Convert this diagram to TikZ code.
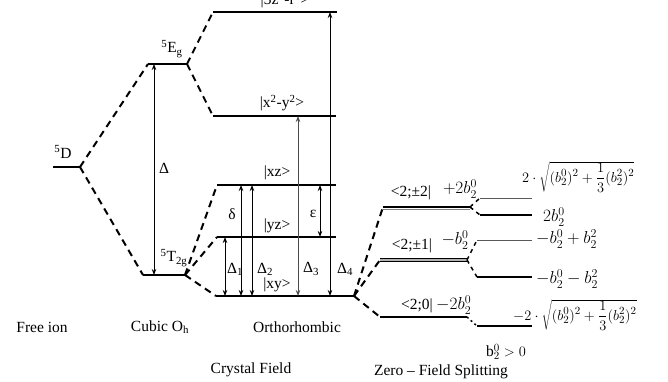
\documentclass[tikz,border=0pt]{standalone}
\usepackage{fontspec}
\setmainfont{Liberation Serif}
\usetikzlibrary{arrows.meta}
\begin{document}
\begin{tikzpicture}[x=1pt,y=-1pt,
  level/.style={line width=2.2pt},
  thinlevel/.style={line width=0.9pt,gray!70!black},
  conn/.style={line width=2pt,dash pattern=on 7pt off 5pt},
  gap/.style={line width=0.9pt,{Stealth[length=6pt,width=4.5pt]}-{Stealth[length=6pt,width=4.5pt]}},
  lbl/.style={font=\fontsize{15.5}{18}\selectfont,inner sep=0pt},
  mlbl/.style={font=\fontsize{16.5}{19}\selectfont,inner sep=0pt},
  sqlbl/.style={font=\fontsize{15.5}{18}\selectfont,inner sep=0pt}]
\useasboundingbox (0,0) rectangle (668,382);
% level end points
\coordinate (Dl) at (53,167);  \coordinate (Dr) at (80,167);
\coordinate (Egl) at (148,64); \coordinate (Egr) at (187,64);
\coordinate (Tl) at (143,275); \coordinate (Tr) at (185,275);
\coordinate (zl) at (213,12);  \coordinate (zr) at (337,12);
\coordinate (xyl2) at (213,116); \coordinate (xyr2) at (336,116);
\coordinate (xzl) at (217,185); \coordinate (xzr) at (336,185);
\coordinate (yzl) at (217,237); \coordinate (yzr) at (336,237);
\coordinate (xyl) at (216,296); \coordinate (xyr) at (354,296);
\coordinate (p2l) at (383,207); \coordinate (p2r) at (470,207);
\coordinate (p1l) at (380,260); \coordinate (p1r) at (467,260);
\coordinate (p0l) at (380,317); \coordinate (p0r) at (467,317);
\coordinate (r2al) at (480,198); \coordinate (r2ar) at (532,198);
\coordinate (r2bl) at (480,215); \coordinate (r2br) at (532,215);
\coordinate (r1al) at (477,240); \coordinate (r1ar) at (532,240);
\coordinate (r1bl) at (477,277); \coordinate (r1br) at (532,277);
\coordinate (r0l) at (477,326); \coordinate (r0r) at (532,326);
% levels
\foreach \a/\b in {Dl/Dr,Egl/Egr,Tl/Tr,zl/zr,xyl2/xyr2,xzl/xzr,yzl/yzr,xyl/xyr,r2bl/r2br,r1bl/r1br,r0l/r0r,p0l/p0r}
  \draw[level] (\a) -- (\b);
\draw[level] (p2l) -- (p2r);
\draw[line width=0.8pt,gray] ([yshift=-2.2pt]p2l) -- ([yshift=-2.2pt]p2r);
\draw[line width=3.4pt] (p1l) -- (p1r);
\draw[line width=1.4pt,gray!60] (p1l) -- (p1r);
\draw[thinlevel] (r2al) -- (r2ar);
\draw[thinlevel] (r1al) -- (r1ar);
% connectors
\draw[conn] (Dr) -- (Egl);
\draw[conn] (Dr) -- (Tl);
\draw[conn] (Egr) -- (zl);
\draw[conn] (Egr) -- (xyl2);
\draw[conn] (Tr) -- (xzl);
\draw[conn] (Tr) -- (yzl);
\draw[conn] (Tr) -- (xyl);
\draw[conn] (xyr) -- (p2l);
\draw[conn] (xyr) -- (p1l);
\draw[conn] (xyr) -- (p0l);
\draw[conn,line width=1.5pt,dash pattern=on 4pt off 4pt] (p2r) -- (r2al);
\draw[conn,line width=1.5pt,dash pattern=on 4pt off 4pt] (p2r) -- (r2bl);
\draw[conn,line width=1.5pt,dash pattern=on 4pt off 4pt] (p1r) -- (r1al);
\draw[conn,line width=1.5pt,dash pattern=on 4pt off 4pt] (p1r) -- (r1bl);
\draw[conn,line width=1.5pt,dash pattern=on 2pt off 3pt] (p0r) -- (r0l);
% gaps
\draw[gap] (Egl -| 154,0) -- (Tl -| 154,0);
\draw[gap] (yzl -| 225,0) -- (xyl -| 225,0);
\draw[gap] (xzl -| 241,0) -- (xyl -| 241,0);
\draw[gap] (xzl -| 252,0) -- (xyl -| 252,0);
\draw[gap,gray!60!black] (xyl2 -| 298,0) -- (xyl -| 298,0);
\draw[gap] (xzl -| 320,0) -- (yzl -| 320,0);
\draw[gap] (zl -| 330,0) -- (xyl -| 330,0);
% labels
\node[lbl] (tD) at (63,152) {\textsuperscript{5}D};
\node[lbl] (tEg) at (172,49) {\textsuperscript{5}E\textsubscript{g}};
\node[lbl] (tT) at (174,258) {\textsuperscript{5}T\textsubscript{2g}};
\node[lbl] (tDel) at (164,168) {Δ};
\node[lbl,anchor=base] (tz) at (285,5) {|3z\textsuperscript{2}-r\textsuperscript{2}>};
\node[lbl] (tx2) at (282,103) {|x\textsuperscript{2}-y\textsuperscript{2}>};
\node[lbl] (txz) at (277,173) {|xz>};
\node[lbl] (tyz) at (277,226) {|yz>};
\node[lbl] (txy) at (277,285) {|xy>};
\node[lbl] (tdelta) at (232,214) {δ};
\node[lbl] (teps) at (313,214) {ε};
\node[lbl] (tD1) at (235,269) {Δ\textsubscript{1}};
\node[lbl] (tD2) at (265,269) {Δ\textsubscript{2}};
\node[lbl] (tD3) at (311,269) {Δ\textsubscript{3}};
\node[lbl] (tD4) at (345,269) {Δ\textsubscript{4}};
\node[lbl] (tfree) at (42,327) {Free ion};
\node[lbl] (tcub) at (160,327) {Cubic O\textsubscript{h}};
\node[lbl] (torth) at (297,327) {Orthorhombic};
\node[lbl] (tcf) at (251,370) {Crystal Field};
\node[lbl] (tzfs) at (441,372) {Zero – Field Splitting};
\node[lbl] (tb) at (506,352) {b$_2^0 > 0$};
\node[lbl] (s2) at (411,193) {<2;±2|};
\node[lbl] (s1) at (412,246) {<2;±1|};
\node[lbl,anchor=east] (s0) at (433,306) {<2;0|};
\node[mlbl] (e2) at (460,189) {$+2b_2^0$};
\node[mlbl] (e1) at (455,240) {$-b_2^0$};
\node[mlbl,anchor=west] (e0) at (436,305) {$-2b_2^0$};
\node[sqlbl,anchor=west] (f2a) at (522,177) {$2\cdot\sqrt{\displaystyle(b_2^0)^2+\frac{1}{3}(b_2^2)^2}$};
\node[mlbl,anchor=west] (f2b) at (543,217) {$2b_2^0$};
\node[mlbl,anchor=west] (f1a) at (536,239) {$-b_2^0+b_2^2$};
\node[mlbl,anchor=west] (f1b) at (536,279) {$-b_2^0-b_2^2$};
\node[sqlbl,anchor=west] (f0) at (513,315) {$-2\cdot\sqrt{\displaystyle(b_2^0)^2+\frac{1}{3}(b_2^2)^2}$};
\end{tikzpicture}
\end{document}
